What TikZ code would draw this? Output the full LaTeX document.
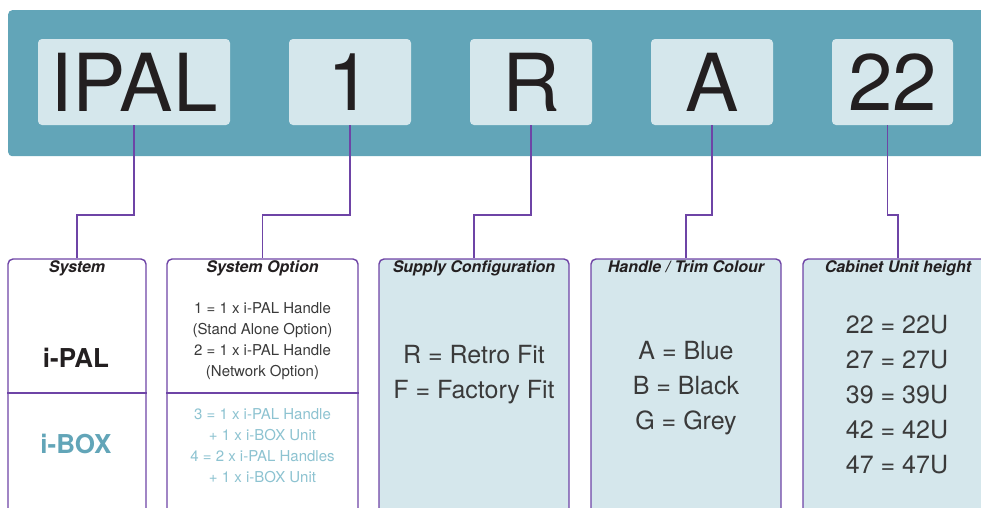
\documentclass[tikz,border=0pt]{standalone}
\usepackage{fontspec}
\setmainfont{TeX Gyre Heros}
\definecolor{banner}{HTML}{62A5B8}
\definecolor{pale}{HTML}{D5E7EC}
\definecolor{edge}{HTML}{6E44A6}
\definecolor{ink}{HTML}{231F20}
\definecolor{soft}{HTML}{3A3A3A}
\definecolor{boxteal}{HTML}{8DC3D1}
\begin{document}
\begin{tikzpicture}[x=1pt,y=-1pt,
  tag/.style={fill=pale,rounded corners=4pt,minimum height=86,inner sep=0pt,text=ink,font=\fontsize{80}{80}\selectfont},
  panel/.style={draw=edge,line width=1.4pt,rounded corners=5pt,minimum height=256,inner sep=0pt},
  heading/.style={anchor=base,inner sep=0pt,text=ink,font=\fontsize{16}{16}\selectfont\bfseries\itshape},
  bigtext/.style={align=center,text=soft,font=\fontsize{25}{35}\selectfont},
  smalltext/.style={align=center,text=soft,font=\fontsize{15}{21}\selectfont},
  sysname/.style={font=\fontsize{26}{26}\selectfont\bfseries},
  link/.style={draw=edge,line width=1.6pt}]
\useasboundingbox (0,0) rectangle (981,507);
\clip (0,0) rectangle (981,507);
% part number band
\node[fill=banner,rounded corners=4pt,minimum width=990,minimum height=146,anchor=north west] (band) at (8,10) {};
\node[tag,minimum width=192] (ipal) at (134,82) {IPAL};
\node[tag,minimum width=122] (opt) at (350,82) {1};
\node[tag,minimum width=122] (cfg) at (531,82) {R};
\node[tag,minimum width=122] (col) at (712,82) {A};
\node[tag,minimum width=121] (hgt) at (892.5,82) {22};
% option panels
\node[panel,fill=white,minimum width=138] (sys) at (77,387) {};
\node[panel,fill=white,minimum width=191] (sysopt) at (262.5,387) {};
\node[panel,fill=pale,minimum width=190] (supply) at (474,387) {};
\node[panel,fill=pale,minimum width=190] (trim) at (686,387) {};
\node[panel,fill=pale,minimum width=190] (cab) at (898,387) {};
\draw[edge,line width=1.4pt] (sys.west |- 0,393) -- (sys.east |- 0,393);
\draw[edge,line width=1.4pt] (sysopt.west |- 0,393) -- (sysopt.east |- 0,393);
\draw[link] (ipal.south) -- ++(0,90) -| (sys.north);
\draw[link] (opt.south) -- ++(0,90) -| (sysopt.north);
\draw[link] (cfg.south) -- ++(0,90) -| (supply.north);
\draw[link] (col.south) -- ++(0,90) -| (trim.north);
\draw[link] ([xshift=-5pt]hgt.south) -- ++(0,90) -| (cab.north);
% headings
\node[heading] (systitle) at ([yshift=-14pt]sys.north) {System};
\node[heading] (opttitle) at ([yshift=-14pt]sysopt.north) {System Option};
\node[heading] (supplytitle) at ([yshift=-14pt]supply.north) {Supply Configuration};
\node[heading] (trimtitle) at ([yshift=-14pt]trim.north) {Handle / Trim Colour};
\node[heading] (cabtitle) at ([yshift=-14pt]cab.north) {Cabinet Unit height};
% contents
\node[sysname,text=ink] (ipalname) at (76,358) {i-PAL};
\node[sysname,text=banner] (iboxname) at (76,444) {i-BOX};
\node[smalltext] (optA) at (262.5,341.5) {1 = 1 x i-PAL Handle\\(Stand Alone Option)\\2 = 1 x i-PAL Handle\\(Network Option)};
\node[smalltext,text=boxteal] (optB) at (262.5,446) {3 = 1 x i-PAL Handle\\+ 1 x i-BOX Unit\\4 = 2 x i-PAL Handles\\+ 1 x i-BOX Unit};
\node[bigtext] (supplytxt) at (474,375) {R = Retro Fit\\F = Factory Fit};
\node[bigtext] (trimtxt) at (686,388) {A = Blue\\B = Black\\G = Grey};
\node[bigtext] (cabtxt) at (897,395) {22 = 22U\\27 = 27U\\39 = 39U\\42 = 42U\\47 = 47U};
\end{tikzpicture}
\end{document}
